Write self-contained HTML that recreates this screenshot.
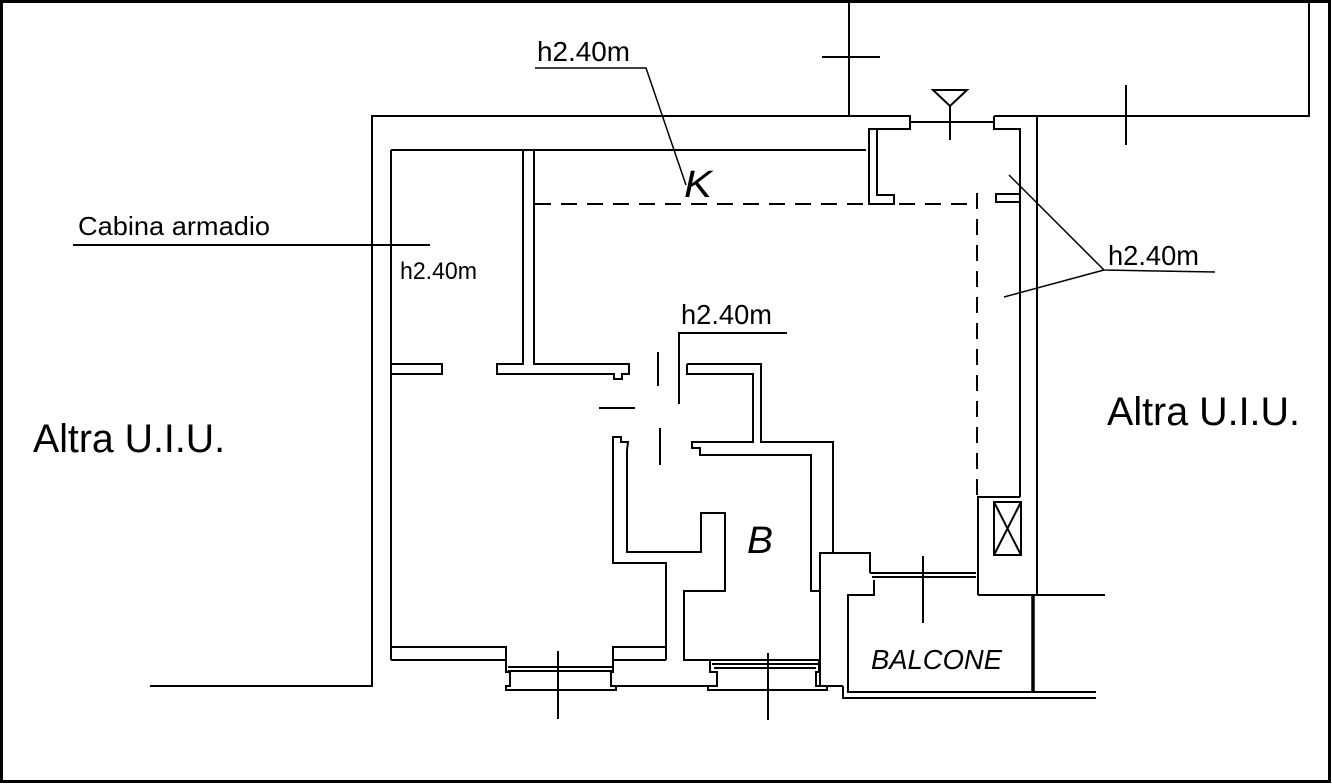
<!DOCTYPE html>
<html><head><meta charset="utf-8"><style>
html,body{margin:0;padding:0;background:#fff;}
svg{display:block;}
text{font-family:"Liberation Sans",Arial,sans-serif;fill:#000;}
</style></head><body>
<svg width="1332" height="784" viewBox="0 0 1332 784" xmlns="http://www.w3.org/2000/svg">
<rect x="1.5" y="1.5" width="1328" height="780" fill="#fff" stroke="#000" stroke-width="3"/>
<g fill="none" stroke="#000" stroke-width="2" stroke-linejoin="miter">
<polyline points="849,2 849,116"/>
<polyline points="1037,116 1309,116 1309,2"/>
<line x1="822" y1="57" x2="880" y2="57"/>
<line x1="1126" y1="85" x2="1126" y2="145"/>
<polyline points="150,686 372,686 372,116 910,116 910,129 869,129 869,204 894,204 894,195 877,195 877,129"/>
<line x1="391" y1="150" x2="866" y2="150"/>
<line x1="391" y1="150" x2="391" y2="660"/>
<line x1="910" y1="122" x2="994" y2="122"/>
<polygon points="933,90 967,90 950,106"/>
<line x1="950" y1="106" x2="950" y2="140"/>
<polyline points="994,116 1037,116 1037,595"/>
<polyline points="994,116 994,129 1020,129 1020,497"/>
<polyline points="1020,194 996,194 996,202 1020,202"/>
<polyline points="523,150 523,364 497,364 497,374 614,374 614,379 622,379 622,374 629,374 629,364 534,364 534,150"/>
<polyline points="391,364 442,364 442,374 391,374"/>
<line x1="658" y1="352" x2="658" y2="386"/>
<line x1="599" y1="408" x2="635" y2="408"/>
<line x1="660" y1="428" x2="660" y2="465"/>
<polyline points="687,364 761,364 761,442 833,442 833,553"/>
<polyline points="687,364 687,374 753,374 753,442 692,442 692,448 700,448 700,455 811,455 811,591 820,591"/>
<polyline points="627,450 628,442 621,442 621,437 613,437 613,563 666,563 666,660"/>
<polyline points="627,450 627,552 701,552 701,513 725,513 725,591 684,591 684,660 820,660"/>
<polyline points="391,647 506,647 506,660 391,660"/>
<polyline points="666,647 613,647 613,660 666,660"/>
<line x1="508" y1="667" x2="612" y2="667"/>
<line x1="508" y1="671" x2="612" y2="671"/>
<polyline points="506,660 506,672 510,672 510,686 506,686 506,690 616,690 616,686 611,686 611,672 613,672 613,660"/>
<line x1="558" y1="651" x2="558" y2="719"/>
<line x1="612" y1="686" x2="718" y2="686"/>
<line x1="712" y1="664" x2="818" y2="664"/>
<line x1="714" y1="668" x2="816" y2="668"/>
<polyline points="710,660 710,672 717,672 717,686 708,686 708,690 827,690 827,686 816,686 816,672 819,672 819,660"/>
<line x1="768" y1="653" x2="768" y2="720"/>
<polyline points="820,686 820,553 870,553 870,573"/>
<line x1="820" y1="686" x2="843" y2="686"/>
<line x1="870" y1="573" x2="976" y2="573"/>
<line x1="872" y1="577" x2="976" y2="577"/>
<polyline points="874,580 874,595 848,595 848,692 1096,692"/>
<polyline points="843,686 843,698 1096,698"/>
<line x1="923" y1="556" x2="923" y2="623"/>
<polyline points="978,573 978,497 1020,497"/>
<line x1="978" y1="595" x2="1105" y2="595"/>
<line x1="978" y1="573" x2="978" y2="595"/>
<line x1="1033" y1="595" x2="1033" y2="692" stroke-width="3.5"/>
<rect x="994" y="502" width="27" height="53"/>
<polyline points="994,502 1021,555"/>
<polyline points="1021,502 994,555"/>
<line x1="535" y1="204" x2="975" y2="204" stroke-dasharray="16,10"/>
<line x1="977" y1="193" x2="977" y2="497" stroke-dasharray="16,10"/>
<line x1="73" y1="245" x2="430" y2="245"/>
<polyline points="535,68 646,68 686,185" stroke-width="1.5"/>
<polyline points="679,404 679,333 787,333"/>
<polyline points="1009,175 1104,270 1215,272" stroke-width="1.5"/>
<line x1="1004" y1="297" x2="1104" y2="270" stroke-width="1.5"/>
</g>
<text x="78" y="235" font-size="26" textLength="192" lengthAdjust="spacingAndGlyphs">Cabina armadio</text>
<text x="537" y="61" font-size="28" textLength="93" lengthAdjust="spacingAndGlyphs">h2.40m</text>
<text x="400" y="279" font-size="24" textLength="77" lengthAdjust="spacingAndGlyphs">h2.40m</text>
<text x="681" y="324" font-size="28" textLength="91" lengthAdjust="spacingAndGlyphs">h2.40m</text>
<text x="1108" y="265" font-size="28" textLength="91" lengthAdjust="spacingAndGlyphs">h2.40m</text>
<text x="684" y="197" font-size="38" font-style="italic" textLength="28" lengthAdjust="spacingAndGlyphs">K</text>
<text x="747" y="553" font-size="38" font-style="italic" textLength="26" lengthAdjust="spacingAndGlyphs">B</text>
<text x="871" y="669" font-size="28" font-style="italic" textLength="131" lengthAdjust="spacingAndGlyphs">BALCONE</text>
<text x="33" y="452" font-size="40" textLength="192" lengthAdjust="spacingAndGlyphs">Altra U.I.U.</text>
<text x="1107" y="425" font-size="40" textLength="193" lengthAdjust="spacingAndGlyphs">Altra U.I.U.</text>
</svg>
</body></html>
